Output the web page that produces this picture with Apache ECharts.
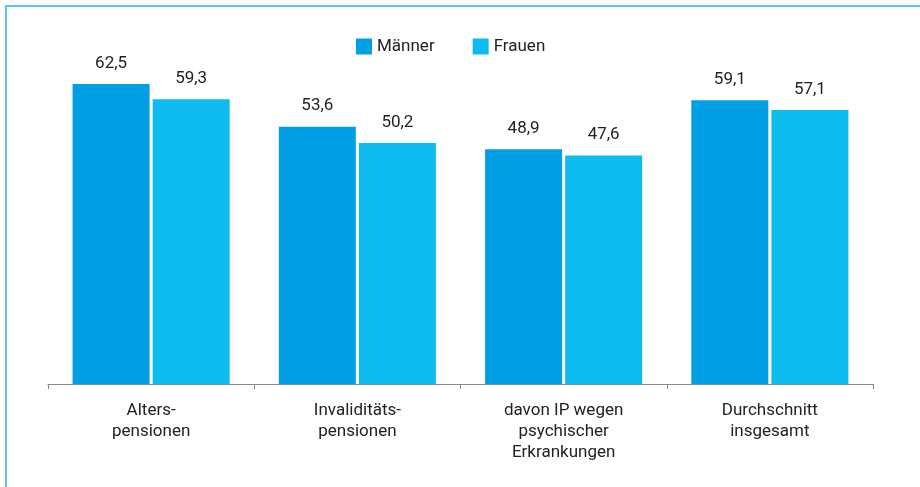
<!DOCTYPE html>
<html>
<head>
<meta charset="utf-8">
<script src="https://cdn.jsdelivr.net/npm/echarts@6/dist/echarts.min.js"></script>
<style>
  html, body { margin: 0; padding: 0; background: #fff; }
  #frame { position: absolute; left: 5px; top: 5px; width: 915px; height: 482px;
           border-left: 2px solid #5cc3f0; border-top: 2px solid #5cc3f0; box-sizing: border-box; }
  #chart { position: absolute; left: 0; top: 0; width: 920px; height: 487px; }
</style>
</head>
<body>
<div id="frame"></div>
<div id="chart"></div>
<script>
// Kategorien und Werte
const categories = ["Alters-\npensionen", "Invaliditäts-\npensionen", "davon IP wegen\npsychischer\nErkrankungen", "Durchschnitt\ninsgesamt"];
const maenner = [62.5, 53.6, 48.9, 59.1];
const frauen = [59.3, 50.2, 47.6, 57.1];

const chart = echarts.init(document.getElementById("chart"));
const fontFamily = "Roboto, sans-serif";

const labelOpt = {
  show: true,
  position: "top",
  distance: 12,
  color: "#222",
  fontSize: 17,
  fontFamily: fontFamily,
  formatter: (p) => p.value.toFixed(1).replace(".", ","),
};

chart.setOption({
  animation: false,
  grid: { left: 48, right: 47, top: 48, bottom: 103 },
  legend: {
    top: 33,
    left: 351,
    itemWidth: 16,
    itemHeight: 16,
    itemGap: 38,
    icon: "rect",
    textStyle: { fontSize: 17, color: "#222", fontFamily: fontFamily },
    data: ["Männer", "Frauen"],
  },
  xAxis: {
    type: "category",
    data: categories,
    axisLine: { lineStyle: { color: "#888", width: 1 } },
    axisTick: { show: true, length: 5, lineStyle: { color: "#888" } },
    axisLabel: {
      color: "#222",
      fontSize: 17,
      lineHeight: 21,
      margin: 16,
      fontFamily: fontFamily,
      interval: 0,
    },
  },
  yAxis: {
    type: "value",
    min: 0,
    max: 70,
    show: false,
    splitLine: { show: false },
  },
  series: [
    {
      name: "Männer",
      type: "bar",
      data: maenner,
      barWidth: 77,
      barGap: "4%",
      itemStyle: { color: "#009fe3" },
      label: labelOpt,
    },
    {
      name: "Frauen",
      type: "bar",
      data: frauen,
      barWidth: 77,
      itemStyle: { color: "#0dbbee" },
      label: labelOpt,
    },
  ],
});
</script>
</body>
</html>
